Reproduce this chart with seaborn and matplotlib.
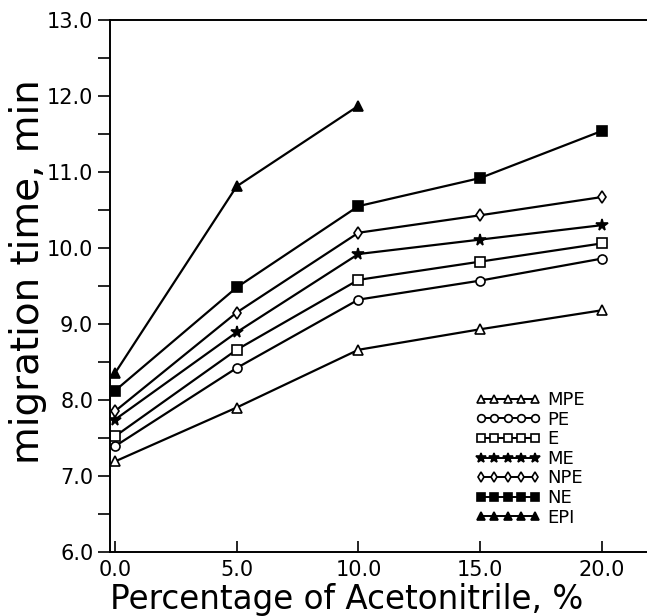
import numpy as np
import pandas as pd
import seaborn as sns
from matplotlib import pyplot as plt
from matplotlib.ticker import MultipleLocator, FormatStrFormatter

acetonitrile = [0, 5, 10, 15, 20]

mpe = [7.19, 7.90, 8.66, 8.93, 9.18]
pe = [7.39, 8.42, 9.32, 9.57, 9.86]
e = [7.52, 8.66, 9.58, 9.82, 10.06]
me = [7.74, 8.89, 9.92, 10.11, 10.30]
npe = [7.85, 9.15, 10.20, 10.43, 10.67]
ne = [8.12, 9.48, 10.55, 10.92, 11.54]
epi_x = [0, 5, 10]
epi = [8.35, 10.81, 11.87]

series = [
    ("MPE", acetonitrile, mpe, "^", "white"),
    ("PE", acetonitrile, pe, "o", "white"),
    ("E", acetonitrile, e, "s", "white"),
    ("ME", acetonitrile, me, "*", "black"),
    ("NPE", acetonitrile, npe, "d", "white"),
    ("NE", acetonitrile, ne, "s", "black"),
    ("EPI", epi_x, epi, "^", "black"),
]

sns.set_style("white")
plt.rcParams['font.family'] = ['DejaVu Sans']
for key in ["text.color", "axes.labelcolor", "xtick.color", "ytick.color"]:
    plt.rcParams[key] = "black"

fig = plt.figure(figsize=(6.47, 6.16), dpi=100)
ax = fig.add_axes([0.17, 0.104, 0.83, 0.8636])

for name, xs, ys, mk, fc in series:
    df = pd.DataFrame({"x": xs, "y": ys})
    ms = 8.5 if mk == "*" else 6.5
    sns.lineplot(data=df, x="x", y="y", ax=ax, color="black", linewidth=1.6,
                 marker=mk, markersize=ms, markerfacecolor=fc,
                 markeredgecolor="black", markeredgewidth=1.2, label=name)

ax.set_xlim(-0.2, 21.85)
ax.set_ylim(6.0, 13.0)
ax.xaxis.set_major_locator(MultipleLocator(5))
ax.yaxis.set_major_locator(MultipleLocator(1))
ax.yaxis.set_minor_locator(MultipleLocator(0.5))
ax.xaxis.set_major_formatter(FormatStrFormatter("%.1f"))
ax.yaxis.set_major_formatter(FormatStrFormatter("%.1f"))

ax.tick_params(axis="y", which="both", direction="out", length=9, width=1.2,
               left=True, labelsize=15, pad=3)
ax.tick_params(axis="x", which="major", direction="in", length=8, width=1.2,
               bottom=True, labelsize=15, pad=6)

for side in ["left", "bottom", "top"]:
    ax.spines[side].set_color("black")
    ax.spines[side].set_linewidth(1.4)
ax.spines["right"].set_visible(False)

ax.set_xlabel("Percentage of Acetonitrile, %", fontsize=23.5)
ax.set_ylabel("migration time, min", fontsize=28)
ax.xaxis.set_label_coords(0.44, -0.09)
ax.xaxis.label.set_va("center")
ax.yaxis.set_label_coords(-0.152, 0.526)
ax.yaxis.label.set_va("center")

leg = ax.legend(loc="lower right", bbox_to_anchor=(0.905, 0.027), frameon=False,
                numpoints=5, handlelength=3.6, handletextpad=0.4,
                labelspacing=0.09, fontsize=13, markerscale=0.85,
                borderaxespad=0.2)
for line in leg.get_lines():
    line.set_linewidth(1.4)

plt.savefig("out.png", dpi=100)
